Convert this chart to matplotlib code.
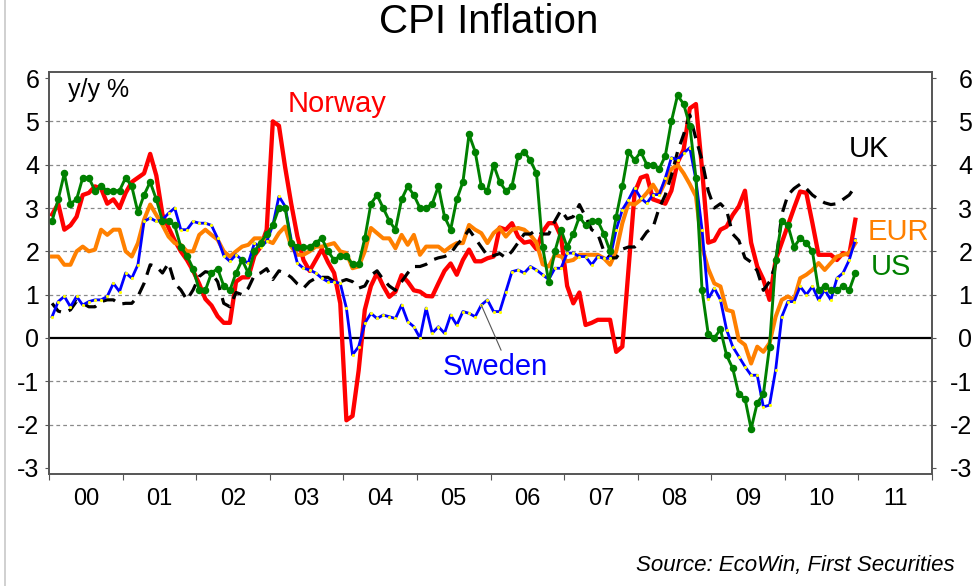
import numpy as np
import matplotlib
matplotlib.use('Agg')
import matplotlib.pyplot as plt
from matplotlib.lines import Line2D

plt.rcParams['font.family'] = ['Liberation Sans', 'DejaVu Sans']
plt.rcParams['axes.unicode_minus'] = False

###data, monthly y/y %, Jan 2000 - Dec 2010
year_labels = ['00', '01', '02', '03', '04', '05', '06', '07', '08', '09', '10', '11']
months = np.arange(132)

norway = [
    2.85, 3.1, 2.5, 2.6, 2.8, 3.3, 3.35, 3.5, 3.45, 3.1, 3.2, 3.0,
    3.35, 3.6, 3.7, 3.8, 4.25, 3.75, 2.85, 2.55, 2.25, 2.0, 1.8, 1.55,
    1.25, 0.9, 0.75, 0.5, 0.35, 0.35, 1.3, 1.4, 1.4, 1.9, 2.1, 2.5,
    5.0, 4.9, 3.95, 3.1, 2.35, 1.8, 1.55, 1.8, 2.05, 1.75, 1.5, 0.8,
    -1.9, -1.8, -0.75, 0.65, 1.2, 1.5, 1.2, 0.95, 1.07, 1.45, 1.3, 1.1,
    1.07, 0.97, 0.96, 1.26, 1.55, 1.72, 1.46, 1.8, 2.04, 1.77, 1.77, 1.84,
    1.88, 2.55, 2.5, 2.65, 2.34, 2.2, 2.23, 2.05, 2.45, 2.65, 2.65, 2.34,
    1.2, 0.8, 1.05, 0.3, 0.35, 0.42, 0.42, 0.42, -0.32, -0.2, 1.57, 3.35,
    3.7, 3.75, 3.2, 3.15, 3.1, 3.4, 4.05, 4.35, 5.3, 5.4, 3.9, 2.2,
    2.25, 2.5, 2.57, 2.84, 3.04, 3.4, 2.2, 1.65, 1.35, 0.88, 1.8, 2.2,
    2.6, 3.0, 3.38, 3.35, 2.65, 1.92, 1.92, 1.92, 1.8, 1.96, 1.92, 2.73,
]
sweden = [
    0.49, 0.84, 0.96, 0.72, 0.96, 0.76, 0.84, 0.88, 0.88, 0.96, 1.26, 1.07,
    1.5, 1.38, 1.69, 2.69, 2.77, 2.69, 2.73, 2.88, 3.0, 2.5, 2.5, 2.69,
    2.65, 2.65, 2.6, 2.3, 1.9, 1.77, 1.92, 1.8, 1.73, 2.19, 2.1, 2.23,
    2.6, 3.27, 3.04, 2.27, 1.73, 1.61, 1.57, 1.5, 1.38, 1.3, 1.3, 1.26,
    0.69, -0.39, -0.2, 0.34, 0.57, 0.45, 0.53, 0.49, 0.45, 0.76, 0.38, 0.26,
    0.0, 0.69, 0.11, 0.26, 0.11, 0.53, 0.3, 0.61, 0.57, 0.49, 0.76, 0.88,
    0.61, 0.61, 1.07, 1.53, 1.57, 1.5, 1.65, 1.57, 1.46, 1.35, 1.61, 1.61,
    1.96, 1.96, 1.88, 1.88, 1.69, 1.88, 1.84, 1.84, 2.5, 2.96, 3.19, 3.46,
    3.23, 3.11, 3.31, 3.31, 3.69, 4.16, 4.12, 4.27, 4.39, 3.65, 2.5, 0.9,
    1.15, 0.88, 0.19, -0.2, -0.43, -0.66, -0.86, -0.86, -1.59, -1.55, -0.74, 0.49,
    0.84, 0.84, 1.19, 1.0, 1.19, 0.88, 1.11, 0.88, 1.38, 1.5, 1.8, 2.27,
]
eur = [
    1.88, 1.88, 1.69, 1.69, 2.0, 2.11, 2.0, 2.04, 2.5, 2.38, 2.5, 2.5,
    2.0, 1.88, 2.19, 2.73, 3.08, 2.84, 2.61, 2.34, 2.19, 2.15, 2.0, 2.0,
    2.38, 2.5, 2.38, 2.27, 2.0, 1.88, 2.0, 2.11, 2.15, 2.3, 2.3, 2.25,
    2.19, 2.42, 2.57, 2.11, 1.92, 1.92, 2.0, 2.11, 2.11, 2.15, 2.19, 2.0,
    1.96, 1.61, 1.65, 2.0, 2.54, 2.42, 2.3, 2.3, 2.07, 2.38, 2.15, 2.38,
    1.92, 2.11, 2.11, 2.11, 2.0, 2.11, 2.19, 2.19, 2.61, 2.5, 2.42, 2.19,
    2.42, 2.54, 2.34, 2.5, 2.54, 2.5, 2.38, 2.2, 1.7, 1.65, 1.92, 1.88,
    1.77, 1.8, 1.92, 1.92, 1.92, 1.92, 1.84, 1.69, 2.0, 2.65, 3.11, 3.08,
    3.19, 3.35, 3.54, 3.31, 3.6, 3.9, 4.0, 3.8, 3.55, 3.27, 2.1, 1.6,
    1.26, 1.19, 0.65, 0.61, -0.05, -0.16, -0.59, -0.2, -0.32, -0.12, 0.49, 0.88,
    0.96, 0.88, 1.38, 1.46, 1.57, 1.73, 1.57, 1.73, 1.88, 1.92, 1.96, 2.19,
]
us = [
    2.7, 3.2, 3.8, 3.1, 3.2, 3.7, 3.7, 3.4, 3.5, 3.4, 3.4, 3.4,
    3.7, 3.5, 2.9, 3.3, 3.6, 3.2, 2.7, 2.7, 2.6, 2.1, 1.9, 1.6,
    1.1, 1.1, 1.5, 1.6, 1.2, 1.1, 1.5, 1.8, 1.5, 2.0, 2.2, 2.4,
    2.6, 3.0, 3.0, 2.2, 2.1, 2.1, 2.1, 2.2, 2.3, 2.0, 1.8, 1.9,
    1.9, 1.7, 1.7, 2.3, 3.1, 3.3, 3.0, 2.7, 2.5, 3.2, 3.5, 3.3,
    3.0, 3.0, 3.1, 3.5, 2.8, 2.5, 3.2, 3.6, 4.7, 4.3, 3.5, 3.4,
    4.0, 3.6, 3.4, 3.5, 4.2, 4.3, 4.1, 3.8, 2.1, 1.3, 2.0, 2.5,
    2.1, 2.4, 2.8, 2.6, 2.7, 2.7, 2.4, 2.0, 2.8, 3.5, 4.3, 4.1,
    4.3, 4.0, 4.0, 3.9, 4.2, 5.0, 5.6, 5.4, 4.9, 3.7, 1.1, 0.1,
    0.0, 0.2, -0.4, -0.7, -1.3, -1.4, -2.1, -1.5, -1.3, -0.2, 1.8, 2.7,
    2.6, 2.1, 2.3, 2.2, 2.0, 1.1, 1.2, 1.1, 1.1, 1.2, 1.1, 1.5,
]
uk = [
    0.8, 0.62, 0.58, 0.65, 0.85, 0.8, 0.72, 0.72, 0.84, 0.88, 0.88, 0.78,
    0.8, 0.8, 0.96, 1.26, 1.69, 1.65, 1.5, 1.73, 1.26, 1.11, 0.88, 1.11,
    1.42, 1.53, 1.5, 1.3, 0.8, 0.72, 1.05, 1.0, 1.15, 1.45, 1.5, 1.6,
    1.35, 1.55, 1.5, 1.4, 1.25, 1.15, 1.3, 1.38, 1.4, 1.4, 1.3, 1.3,
    1.35, 1.3, 1.15, 1.2, 1.45, 1.55, 1.35, 1.2, 1.1, 1.3, 1.5, 1.65,
    1.65, 1.7, 1.8, 1.85, 1.88, 1.95, 2.15, 2.3, 2.5, 2.3, 2.1, 1.9,
    1.9, 1.95, 1.85, 2.0, 2.2, 2.4, 2.4, 2.5, 2.4, 2.4, 2.7, 2.95,
    2.75, 2.8, 3.08, 2.8, 2.5, 2.4, 2.0, 1.85, 1.85, 2.05, 2.1, 2.1,
    2.25, 2.45, 2.55, 3.0, 3.3, 3.75, 4.3, 4.7, 5.15, 4.6, 4.1, 3.4,
    3.0, 3.1, 2.95, 2.4, 2.25, 1.85, 1.75, 1.55, 1.1, 1.3, 1.7, 2.85,
    3.3, 3.45, 3.55, 3.45, 3.3, 3.2, 3.12, 3.08, 3.1, 3.2, 3.3, 3.5,
]

x = 2000 + (months + 0.5) / 12

W, H = 978, 586
fig = plt.figure(figsize=(W / 100, H / 100), dpi=100)
ax = fig.add_axes([49 / W, 1 - 474 / H, (932 - 49) / W, (474 - 72) / H])
ax.set_xlim(2000, 2012)
ax.set_ylim(-3.14, 6.14)

###grid + zero line
for v in [-2, -1, 1, 2, 3, 4, 5]:
    ax.axhline(v, color='#8a8a8a', lw=0.9, ls=(0, (3, 2.5)), zorder=1)
ax.axhline(0, color='black', lw=1.6, zorder=2)

###series
ax.plot(x, norway, color='#ff0000', lw=3.1, zorder=3, solid_joinstyle='round')
ax.plot(x, eur, color='#ff8000', lw=2.9, zorder=4, solid_joinstyle='round')
ax.plot(x, uk, color='black', lw=2.3, ls=(0, (4, 2.6)), zorder=5)
ax.plot(x, sweden, color='#0000ff', lw=2.0, marker='o', ms=2.3,
        mfc='#ffff00', mec='none', zorder=6)
ax.plot(x, us, color='#008000', lw=2.1, marker='o', ms=4.4,
        mfc='#008000', mec='#008000', zorder=7)

###axes styling
for s in ax.spines.values():
    s.set_color('#555555')
    s.set_linewidth(1.2)

ax.set_xticks(range(2000, 2013))
ax.set_xticklabels([])
ax.set_xticks(np.arange(2000.5, 2012, 1), minor=True)
ax.set_xticklabels(year_labels, minor=True)
ax.tick_params(axis='x', which='major', direction='out', length=4, color='#555555')
ax.tick_params(axis='x', which='minor', length=0, pad=10, labelsize=17)

ax.set_yticks(range(-3, 7))
ax.tick_params(axis='y', direction='out', length=3, color='#555555', pad=4, labelsize=18)

ax2 = ax.twinx()
ax2.set_ylim(ax.get_ylim())
ax2.set_yticks(range(-3, 7))
ax2.tick_params(axis='y', direction='out', length=3, color='#555555', pad=26, labelsize=18)
for lab in ax2.get_yticklabels():
    lab.set_horizontalalignment('right')
for s in ax2.spines.values():
    s.set_color('#555555')
    s.set_linewidth(1.2)

###labels
ax.text(2000.26, 5.57, 'y/y %', fontsize=18, ha='left', va='baseline', zorder=8)
ax.text(2003.24, 5.22, 'Norway', color='#ff0000', fontsize=21, ha='left', va='baseline', zorder=8)
ax.text(2010.87, 4.18, 'UK', color='black', fontsize=21, ha='left', va='baseline', zorder=8)
ax.text(2011.13, 2.26, 'EUR', color='#ff8000', fontsize=21, ha='left', va='baseline', zorder=8)
ax.text(2011.17, 1.455, 'US', color='#008000', fontsize=21, ha='left', va='baseline', zorder=8)
ax.annotate('Sweden', xy=(x[70], sweden[70]), xytext=(2005.35, -0.855),
            textcoords='data', color='#0000ff', fontsize=21, ha='left', va='baseline',
            arrowprops=dict(arrowstyle='-', color='#555555', lw=0.8,
                            relpos=(0.59, 0.8), shrinkA=0, shrinkB=0),
            zorder=8)

fig.text(0.5, 1 - 22 / H, 'CPI Inflation', ha='center', va='center', fontsize=29)
fig.text(955 / W, 1 - 566 / H, 'Source: EcoWin, First Securities', ha='right',
         va='center', fontsize=16, style='italic')

###frame line on the left edge
fig.add_artist(Line2D([4.5 / W, 4.5 / W], [0, 1], color='#c8c8c8', lw=1.2,
                      transform=fig.transFigure))

plt.savefig('out.png', dpi=100)
